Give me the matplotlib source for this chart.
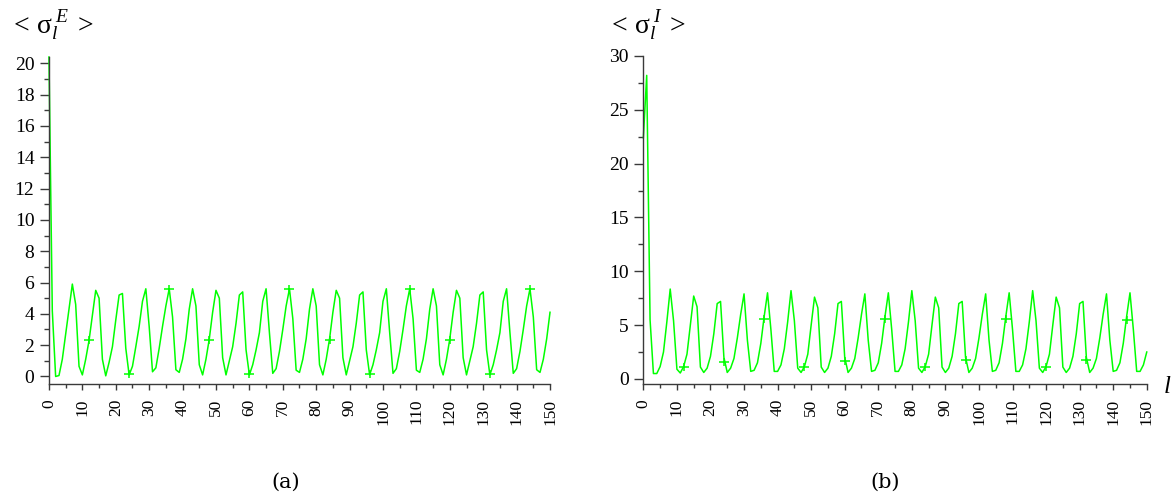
import matplotlib
matplotlib.use("Agg")
import matplotlib.pyplot as plt
from matplotlib.path import Path
from matplotlib.ticker import MultipleLocator

plt.rcParams["font.family"] = ["Liberation Serif", "DejaVu Serif"]
plt.rcParams["mathtext.fontset"] = "custom"
plt.rcParams["mathtext.rm"] = "Liberation Serif"
plt.rcParams["mathtext.it"] = "Liberation Serif:italic"

# mode index l = 0..150
l_vals = list(range(151))

sigma_E = [
    20.4, 4.2, 0.0, 0.06, 1.1, 2.7, 4.3, 5.9, 4.6, 0.65, 0.1, 1.1, 2.3, 3.9, 5.5, 5.0, 1.1, 0.04,
    0.9, 1.9, 3.6, 5.2, 5.3, 1.8, 0.1, 0.65, 1.9, 3.2, 4.8, 5.6, 3.2, 0.3, 0.55, 1.8, 3.2, 4.5,
    5.6, 3.8, 0.43, 0.26, 1.1, 2.4, 4.3, 5.6, 4.5, 0.75, 0.1, 1.1, 2.4, 4.1, 5.5, 5.0, 1.2, 0.1,
    1.0, 1.9, 3.4, 5.2, 5.4, 1.7, 0.1, 0.75, 1.7, 2.8, 4.8, 5.6, 2.8, 0.2, 0.5, 1.6, 3.0, 4.5,
    5.6, 3.7, 0.4, 0.26, 1.1, 2.4, 4.3, 5.6, 4.5, 0.75, 0.1, 1.1, 2.4, 4.1, 5.5, 5.0, 1.2, 0.1,
    1.0, 1.9, 3.4, 5.2, 5.4, 1.7, 0.1, 0.75, 1.7, 2.8, 4.8, 5.6, 2.8, 0.2, 0.5, 1.6, 3.0, 4.5,
    5.6, 3.7, 0.4, 0.26, 1.1, 2.4, 4.3, 5.6, 4.5, 0.75, 0.1, 1.1, 2.4, 4.1, 5.5, 5.0, 1.2, 0.1,
    1.0, 1.9, 3.4, 5.2, 5.4, 1.7, 0.1, 0.75, 1.7, 2.8, 4.8, 5.6, 2.8, 0.2, 0.5, 1.6, 3.0, 4.5,
    5.6, 3.8, 0.43, 0.26, 1.1, 2.4, 4.1,
]

sigma_I = [
    22.4, 28.2, 5.5, 0.5, 0.5, 1.15, 2.5, 5.3, 8.35, 5.4, 0.9, 0.55, 1.15, 2.3, 5.0, 7.7, 6.7, 1.1,
    0.6, 1.0, 2.1, 4.2, 7.0, 7.2, 2.0, 0.6, 1.0, 1.9, 3.8, 6.0, 7.9, 3.6, 0.7, 0.8, 1.5, 3.3,
    5.8, 8.0, 4.6, 0.7, 0.7, 1.3, 2.8, 5.3, 8.2, 5.4, 1.0, 0.6, 1.15, 2.3, 5.0, 7.6, 6.6, 1.1,
    0.6, 1.0, 2.1, 4.2, 7.0, 7.2, 2.0, 0.6, 1.0, 1.9, 3.8, 6.0, 7.9, 3.6, 0.7, 0.8, 1.5, 3.3,
    5.8, 8.0, 4.6, 0.7, 0.7, 1.3, 2.8, 5.3, 8.2, 5.4, 1.0, 0.6, 1.15, 2.3, 5.0, 7.6, 6.6, 1.1,
    0.6, 1.0, 2.1, 4.2, 7.0, 7.2, 2.0, 0.6, 1.0, 1.9, 3.8, 6.0, 7.9, 3.6, 0.7, 0.8, 1.5, 3.3,
    5.8, 8.0, 4.6, 0.7, 0.7, 1.3, 2.8, 5.3, 8.2, 5.4, 1.0, 0.6, 1.15, 2.3, 5.0, 7.6, 6.6, 1.1,
    0.6, 1.0, 2.1, 4.2, 7.0, 7.2, 2.0, 0.6, 1.0, 1.9, 3.8, 6.0, 7.9, 3.6, 0.7, 0.8, 1.5, 3.3,
    5.8, 8.0, 4.6, 0.7, 0.7, 1.3, 2.5,
]

# sampled points every 12 modes
l_marks = [12, 24, 36, 48, 60, 72, 84, 96, 108, 120, 132, 144]
marks_E = [2.3, 0.15, 5.6, 2.3, 0.15, 5.6, 2.3, 0.15, 5.6, 2.3, 0.15, 5.6]
marks_I = [1.1, 1.6, 5.6, 1.1, 1.7, 5.6, 1.1, 1.8, 5.6, 1.1, 1.8, 5.5]

green = "#00ff00"
axis_col = "#3a3a3a"

# wide, flat cross used as point marker
cross = Path([(-1, 0), (1, 0), (0, -0.7), (0, 0.7)],
             [Path.MOVETO, Path.LINETO, Path.MOVETO, Path.LINETO])


def style_axes(ax, ymax, ymajor, yminor):
    for side in ("top", "right"):
        ax.spines[side].set_visible(False)
    for side in ("left", "bottom"):
        ax.spines[side].set_color(axis_col)
        ax.spines[side].set_linewidth(1.0)
    ax.set_xlim(0, 150)
    ax.set_ylim(-0.5, ymax)
    ax.xaxis.set_major_locator(MultipleLocator(10))
    ax.xaxis.set_minor_locator(MultipleLocator(5))
    ax.yaxis.set_major_locator(MultipleLocator(ymajor))
    ax.yaxis.set_minor_locator(MultipleLocator(yminor))
    ax.tick_params(axis="y", which="major", direction="out", length=6.5, width=1.0,
                   color=axis_col, labelsize=14, pad=4)
    ax.tick_params(axis="y", which="minor", direction="out", length=3.5, width=1.0,
                   color=axis_col)
    ax.tick_params(axis="x", which="major", direction="out", length=4.5, width=1.0,
                   color=axis_col, labelsize=12.5, pad=6, labelrotation=90)
    ax.tick_params(axis="x", which="minor", direction="out", length=3, width=1.0,
                   color=axis_col)


fig = plt.figure(figsize=(11.74, 5.04), dpi=100)

ax1 = fig.add_axes([0.0417, 0.2375, 0.4268, 0.6494])
ax1.plot(l_vals, sigma_E, color=green, lw=1.1, clip_on=False)
ax1.plot(l_marks, marks_E, linestyle="none", marker=cross, markersize=7.5,
         markeredgecolor=green, markeredgewidth=1.1, clip_on=False)
style_axes(ax1, 20.4, 2, 1)

ax2 = fig.add_axes([0.548, 0.2375, 0.4288, 0.6514])
ax2.plot(l_vals, sigma_I, color=green, lw=1.1, clip_on=False)
ax2.plot(l_marks, marks_I, linestyle="none", marker=cross, markersize=7.5,
         markeredgecolor=green, markeredgewidth=1.1, clip_on=False)
style_axes(ax2, 30, 5, 2.5)

fig.text(0.008, 0.933, r"$<\,\mathrm{\sigma}_{l}^{\;E}\;>$", fontsize=20)
fig.text(0.517, 0.933, r"$<\,\mathrm{\sigma}_{l}^{\;I}\;>$", fontsize=20)
fig.text(0.991, 0.22, r"$l$", fontsize=18, ha="left")

fig.text(0.2436, 0.033, "(a)", fontsize=15, ha="center", family="DejaVu Serif")
fig.text(0.7538, 0.033, "(b)", fontsize=15, ha="center", family="DejaVu Serif")

fig.savefig("out.png", dpi=100)
